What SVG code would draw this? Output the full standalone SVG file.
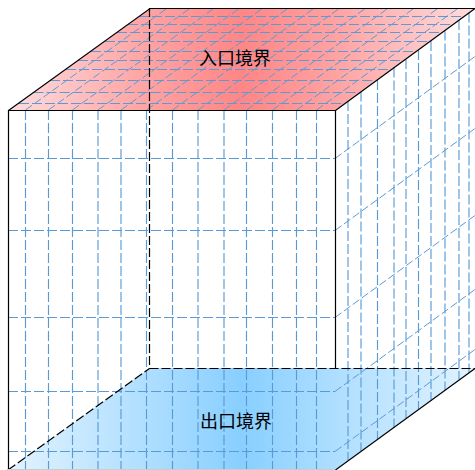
<svg xmlns="http://www.w3.org/2000/svg" width="475" height="470" viewBox="0 0 475 470">
<style>
.g{fill:none;stroke:#5b9bd5;stroke-width:1.15;stroke-dasharray:10 3}
.t{fill:none;stroke:#5b9bd5;stroke-width:1;stroke-dasharray:8 3}
.e{fill:none;stroke:#000;stroke-width:1.2}
.d{fill:none;stroke:#000;stroke-width:1.2;stroke-dasharray:9 3}
text{font-family:"Noto Sans CJK SC","Liberation Sans",sans-serif;font-size:18px;fill:#000;text-anchor:middle}
</style>
<defs>
<linearGradient id="r" x1="0" x2="1" y1="0" y2="0"><stop offset="0" stop-color="#ffdcdc"/><stop offset=".3" stop-color="#ffa2a2"/><stop offset=".5" stop-color="#ff8686"/><stop offset=".7" stop-color="#ffa2a2"/><stop offset="1" stop-color="#ffdcdc"/></linearGradient>
<linearGradient id="b" x1="0" x2="1" y1="0" y2="0"><stop offset="0" stop-color="#e2f3ff"/><stop offset=".3" stop-color="#aedeff"/><stop offset=".5" stop-color="#88cfff"/><stop offset=".7" stop-color="#aedeff"/><stop offset="1" stop-color="#e2f3ff"/></linearGradient>
</defs>
<g id="top-face"><path d="M8.500 110.500L150 8.500H475L335 110.500Z" fill="url(#r)"/></g>
<g id="bottom-face"><path d="M8.500 470L150 368H475L335 470Z" fill="url(#b)"/></g>
<g id="connectors">
<path class="g" d="M25.500 110V470M48.500 110V470M72.500 110V470M98 110V470M121 110V470M146.500 110V470M172.500 110V470M198 110V470M224 110V470M246.500 110V470M272.500 110V470M296.500 110V470M316.500 110V470"/>
<path class="g" d="M8 158.500H335M8 230.500H335M8 317.500H335M8 391.500H335M8 451.500H335"/>
<path class="g" d="M348 101V460.500M361 91.500V451M377.500 80V439.500M394 67.500V427.500M406 59V418.500M418.500 50V409.500M431 41V400.500M445 30.500V390M459 20V379.500M469 12.500V372.500"/>
<path class="t" d="M335 158.500L475 56.500M335 230.500L475 128.500M335 317.500L475 215.500M335 391.500L475 289.500M335 451.500L475 349.500"/>
<path class="t" d="M25.500 110L167.500 8M48.500 110L190.500 8M72.500 110L214.500 8M98 110L240 8M121 110L263 8M146.500 110L288.500 8M172.500 110L314.500 8M198 110L340 8M224 110L366 8M246.500 110L388.500 8M272.500 110L414.500 8M296.500 110L438.500 8M316.500 110L458.500 8"/>
<path class="g" d="M139 16.500H462M128 24.500H451M117 32.500H440M105 41.500H428M91 51.500H414M78 60.500H401M66 69.500H389M50 80.500H373M33.500 92.500H357M19 103.500H342"/>
<path class="d" d="M149.500 8V368M149.500 368.500H475M8 470L149.500 368.500"/>
<path class="e" d="M8.500 470V110.500H335.500V368"/>
<path class="e" d="M8.500 110.500L150 8.500H475M335.500 110.500L475 8.500M335.500 470L475 368.500"/>
<path d="M8 469.500H335" fill="none" stroke="#ccc"/>
</g>
<g id="label-top"><text x="235" y="64.500">入口境界</text></g>
<g id="label-bottom"><text x="236" y="427.500">出口境界</text></g>
</svg>
